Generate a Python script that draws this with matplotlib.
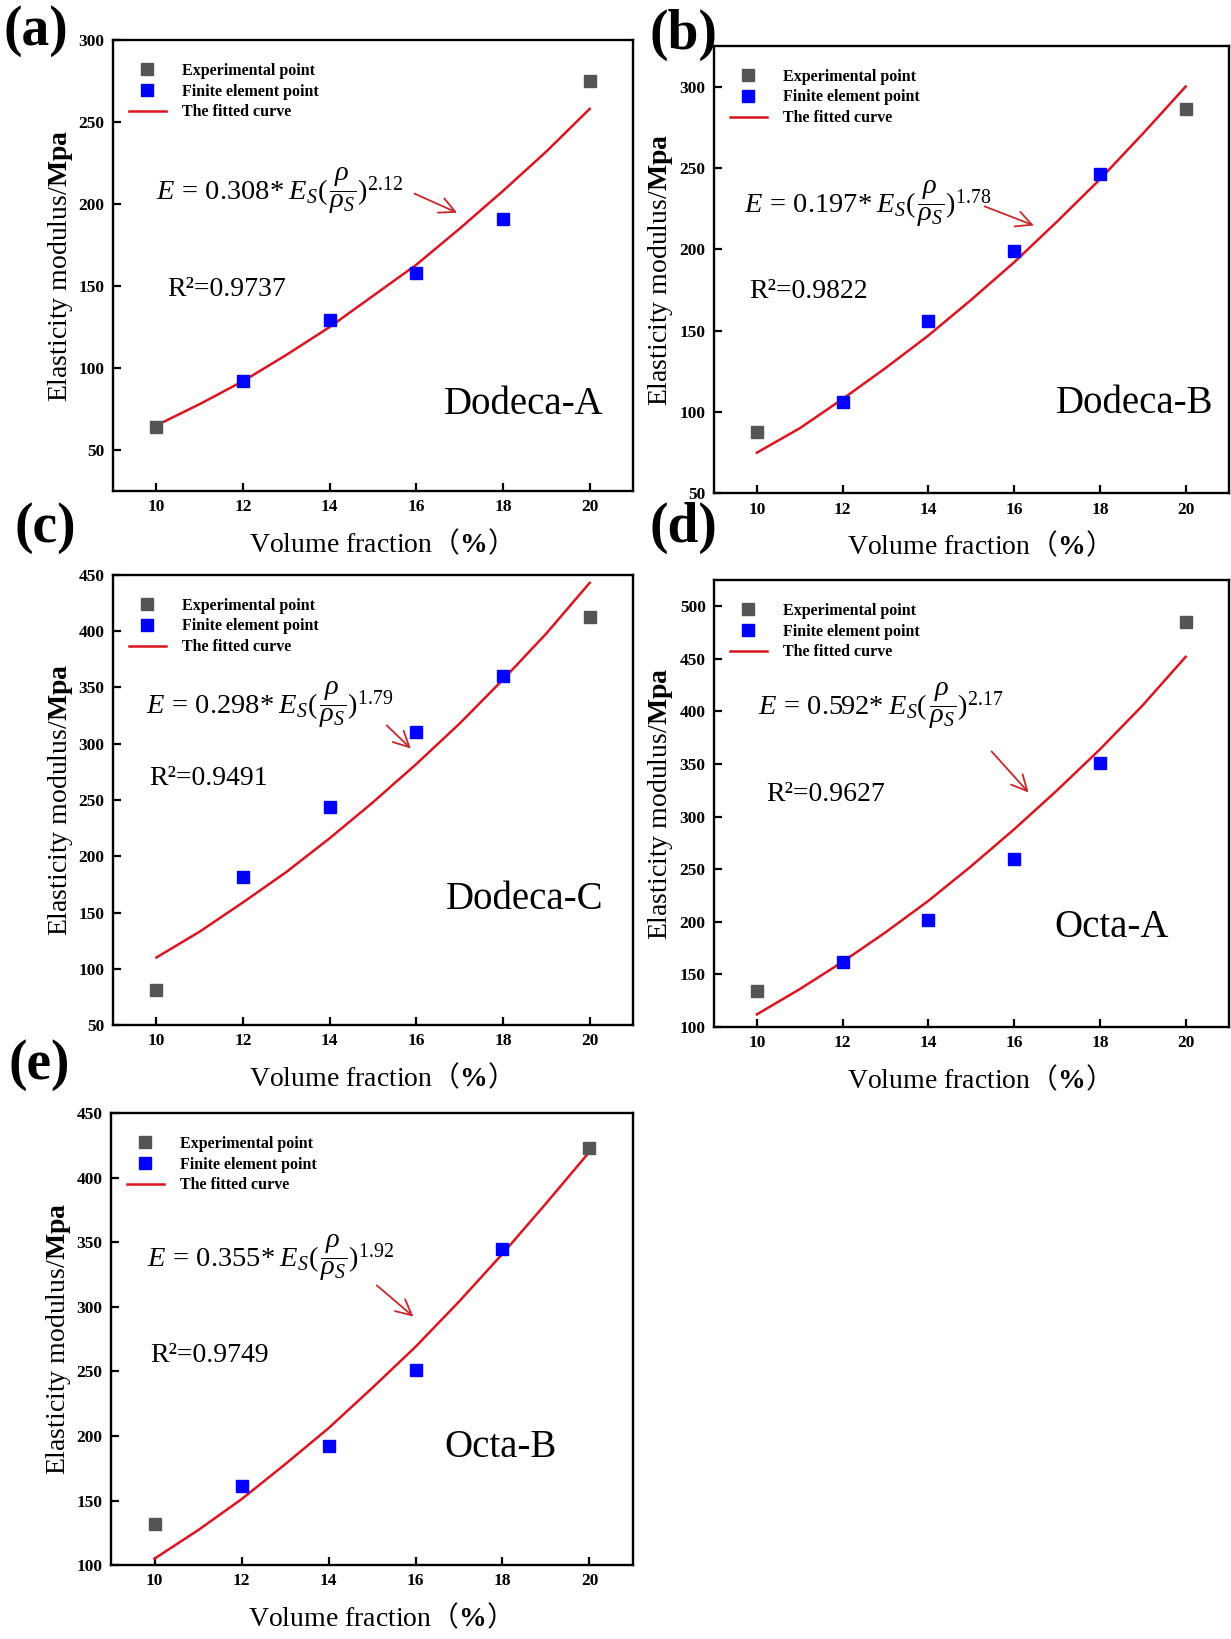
import numpy as np
import matplotlib
matplotlib.use("Agg")
from matplotlib import pyplot as plt
from matplotlib.lines import Line2D

'''
Elastic modulus vs volume fraction for five lattice types (a)-(e).
Grey = experimental points, blue = finite element points, red = fitted curve.
'''

plt.rcParams['font.family'] = ['Liberation Serif', 'Noto Sans CJK SC']
plt.rcParams['mathtext.fontset'] = 'custom'
plt.rcParams['mathtext.rm'] = 'Liberation Serif'
plt.rcParams['mathtext.it'] = 'Liberation Serif:italic'
plt.rcParams['mathtext.bf'] = 'Liberation Serif:bold'
plt.rcParams['mathtext.sf'] = 'Noto Sans CJK SC'
plt.rcParams['mathtext.fallback'] = 'stix'

# ---- data ----
panel_tags = ["(a)", "(b)", "(c)", "(d)", "(e)"]
names = ["Dodeca-A", "Dodeca-B", "Dodeca-C", "Octa-A", "Octa-B"]
coef = ["0.308", "0.197", "0.298", "0.592", "0.355"]
expo = ["2.12", "1.78", "1.79", "2.17", "1.92"]
r2 = ["0.9737", "0.9822", "0.9491", "0.9627", "0.9749"]

exp_x = [10, 20]
exp_a = [64, 275]
exp_b = [88, 286]
exp_c = [81, 413]
exp_d = [134, 485]
exp_e = [132, 423]

fe_x = [12, 14, 16, 18]
fe_a = [92, 129, 158, 191]
fe_b = [106, 156, 199, 246]
fe_c = [182, 244, 310, 360]
fe_d = [162, 202, 260, 351]
fe_e = [161, 192, 251, 345]

fit_x = [10, 11, 12, 13, 14, 15, 16, 17, 18, 19, 20]
fit_a = [65, 78, 92, 108, 125, 144, 163, 185, 208, 232, 258]
fit_b = [75, 90, 108, 127, 147, 169, 192, 217, 243, 271, 300]
fit_c = [110, 133, 159, 186, 216, 248, 282, 318, 357, 398, 443]
fit_d = [112, 136, 162, 190, 220, 253, 288, 325, 364, 406, 452]
fit_e = [105, 127, 151, 178, 206, 237, 269, 304, 341, 380, 420]

ylims = [(25, 300), (50, 325), (50, 450), (100, 525), (100, 450)]
yticks = [np.arange(50, 301, 50), np.arange(50, 301, 50), np.arange(50, 451, 50),
          np.arange(100, 501, 50), np.arange(100, 451, 50)]

# annotation spots (data coords): equation, arrow tail, arrow head, R2, name
eq_pos = [(10.0, 208), (9.70, 228), (9.77, 335), (10.02, 406), (9.82, 338)]
arr_tail = [(15.9, 207), (15.25, 227), (15.27, 318), (15.43, 364), (15.06, 318)]
arr_head = [(17.0, 194), (16.52, 214), (15.92, 294), (16.38, 321), (16.0, 291)]
r2_pos = [(10.25, 148), (9.83, 174), (9.84, 269), (10.21, 321), (9.89, 262)]
name_pos = [(20.33, 78), (20.65, 105), (20.33, 162), (19.6, 195), (19.24, 191)]

exps = [exp_a, exp_b, exp_c, exp_d, exp_e]
fes = [fe_a, fe_b, fe_c, fe_d, fe_e]
fits = [fit_a, fit_b, fit_c, fit_d, fit_e]

# axes rectangles in figure fractions
rects = [
    [0.0918, 0.7004, 0.4224, 0.2752],
    [0.580, 0.699, 0.418, 0.273],
    [0.0918, 0.3746, 0.4224, 0.2746],
    [0.580, 0.3734, 0.418, 0.2727],
    [0.0902, 0.0451, 0.4240, 0.2758],
]
tag_pos = [(0.003, 0.981), (0.528, 0.979), (0.012, 0.678), (0.528, 0.678), (0.007, 0.35)]

fig = plt.figure(figsize=(12.31, 16.39), dpi=100)

for i in range(5):
    ax = fig.add_axes(rects[i])
    ax.plot(fit_x, fits[i], color="#dc1420", lw=1.8, zorder=2)
    ax.plot(exp_x, exps[i], "s", color="#555555", ms=9, zorder=3)
    ax.plot(fe_x, fes[i], "s", color="#0000ff", ms=9, zorder=3)

    ax.set_xlim(9, 21)
    ax.set_ylim(*ylims[i])
    ax.set_xticks([10, 12, 14, 16, 18, 20])
    ax.set_yticks(yticks[i])
    ax.tick_params(direction="in", length=6, width=1.6, labelsize=12.5, pad=6,
                   top=False, right=False)
    for lab in ax.get_xticklabels() + ax.get_yticklabels():
        lab.set_fontweight("bold")
    for sp in ax.spines.values():
        sp.set_linewidth(1.7)

    ax.set_xlabel(r'Volume fraction$\mathsf{（}\mathbf{\%}\mathsf{）}$', fontsize=20, labelpad=9)
    ax.set_ylabel(r'Elasticity modulus/$\mathbf{Mpa}$', fontsize=20, labelpad=3)

    handles = [
        Line2D([], [], ls="none", marker="s", color="#555555", ms=9),
        Line2D([], [], ls="none", marker="s", color="#0000ff", ms=9),
        Line2D([], [], color="#dc1420", lw=1.8),
    ]
    ax.legend(handles, ["Experimental point", "Finite element point", "The fitted curve"],
              loc="upper left", bbox_to_anchor=(0.0, 0.985), frameon=False,
              prop={"weight": "bold", "size": 11.5}, handlelength=2.3,
              handletextpad=1.0, labelspacing=0.3, borderaxespad=0.6)

    eq = r'$E\,=\,%s{*}\;E_S(\,\dfrac{\rho}{\rho_S})^{%s}$' % (coef[i], expo[i])
    ax.text(eq_pos[i][0], eq_pos[i][1], eq, fontsize=20.5, ha="left", va="center")
    ax.annotate("", xy=arr_head[i], xytext=arr_tail[i],
                arrowprops=dict(arrowstyle="->", color="#c8282a", lw=1.3,
                                mutation_scale=28))
    ax.text(r2_pos[i][0], r2_pos[i][1], "R²=" + r2[i], fontsize=20, ha="left", va="center")
    ax.text(name_pos[i][0], name_pos[i][1], names[i], fontsize=28, ha="right", va="center")

    fig.text(tag_pos[i][0], tag_pos[i][1], panel_tags[i], fontsize=40, fontweight="bold",
             ha="left", va="center")

fig.savefig("out.png", dpi=100)
